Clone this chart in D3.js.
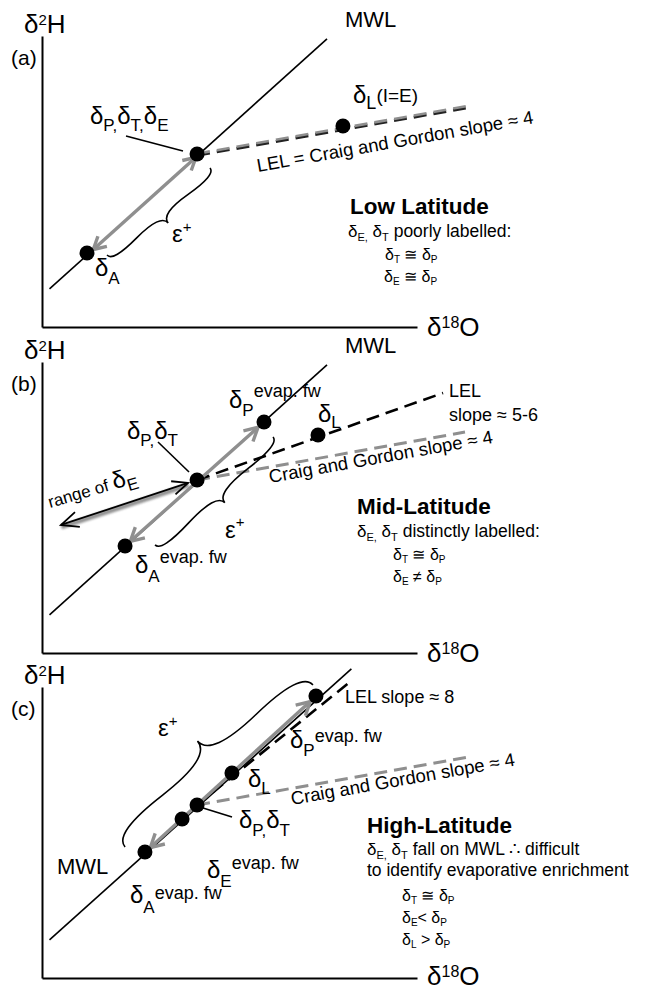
<!DOCTYPE html>
<html><head><meta charset="utf-8">
<script src="https://cdn.jsdelivr.net/npm/d3@7"></script>
<style>
html,body{margin:0;padding:0;background:#fff;}
svg{display:block;font-family:"Liberation Sans",Arial,Helvetica,sans-serif;}
text{white-space:pre;}
</style></head><body>
<svg id="chart" width="645" height="991"></svg>
<script>
// ---------------- data (schematic δ18O / δ2H units) ----------------
const panelLabels = ["(a)", "(b)", "(c)"];
const panelTitles = ["Low Latitude", "Mid-Latitude", "High-Latitude"];
const xDomain = [-20, 0];     // δ18O
const yDomain = [-140, 0];    // δ2H

// Meteoric water line end points [δ18O, δ2H]
const mwlA = [[-19.6, -121.7], [-4.8, -1.4]];
const mwlB = [[-19.6, -121.7], [-4.8, -1.4]];
const mwlC = [[-19.6, -121.7], [-3.5, 8.7]];

// Points
const pointsA = [
  { id: "A", x: -17.6, y: -104.4 },
  { id: "P", x: -11.73, y: -56.8 },
  { id: "L", x: -3.95, y: -43.3 }
];
const pointsB = [
  { id: "Aevap", x: -15.57, y: -88.5 },
  { id: "P", x: -11.73, y: -56.8 },
  { id: "Pevap", x: -8.16, y: -28.9 },
  { id: "L", x: -5.28, y: -35.1 }
];
const pointsC = [
  { id: "Aevap", x: -14.51, y: -79.4 },
  { id: "Eevap", x: -12.53, y: -63.5 },
  { id: "P", x: -11.73, y: -56.8 },
  { id: "L", x: -9.87, y: -41.4 },
  { id: "Pevap", x: -5.39, y: -4.3 }
];

// Craig and Gordon lines (slope ≈ 4)
const cgA = [[-11.73, -56.8], [2.6, -34.0]];
const cgB = [[-11.73, -56.8], [2.56, -33.7]];
const cgC = [[-11.73, -56.8], [2.77, -33.7]];
// Local evaporation lines
const lelB = [[-11.73, -56.8], [1.39, -14.9]];   // slope ≈ 5-6
const lelC = [[-11.73, -56.8], [-3.5, 3.0]];     // slope ≈ 8
// Range of δE arrow (panel b)
const rangeE = [[-12.21, -58.2], [-18.99, -78.4]];
// ε+ braces [start, end]
const braceA = [[-16.53, -105.4], [-11.04, -63.5]];
const braceB = [[-13.97, -88.0], [-7.68, -36.1]];
const braceC = [[-5.55, 1.0], [-15.57, -77.0]];

// ---------------- drawing ----------------
const svg = d3.select("#chart");
const offsets = [0, 326, 651];
const x = d3.scaleLinear().domain(xDomain).range([42, 417]);
const y = d3.scaleLinear().domain(yDomain).range([327, 36]);
const P = d => [x(d[0]), y(d[1])];
const Pt = d => [x(d.x), y(d.y)];

const defs = svg.append("defs");
defs.append("filter").attr("id", "blur").attr("x", "-20%").attr("y", "-50%").attr("width", "140%").attr("height", "200%")
  .append("feGaussianBlur").attr("stdDeviation", 1.3);

function rich(g, px, py, parts, opts = {}) {
  const t = g.append("text").attr("x", px).attr("y", py).attr("fill", "#000");
  if (opts.rotate != null) t.attr("transform", `rotate(${opts.rotate},${px},${py})`);
  if (opts.weight) t.attr("font-weight", opts.weight);
  let cur = 0;
  parts.forEach(p => {
    const shift = p[2] || 0;
    t.append("tspan").attr("font-size", p[1]).attr("dy", shift - cur).text(p[0]);
    cur = shift;
  });
  return t;
}

function line(g, a, b, stroke, width, dash, off) {
  const o = off || [0, 0];
  const l = g.append("line")
    .attr("x1", a[0] + o[0]).attr("y1", a[1] + o[1])
    .attr("x2", b[0] + o[0]).attr("y2", b[1] + o[1])
    .attr("stroke", stroke).attr("stroke-width", width).attr("fill", "none");
  if (dash) l.attr("stroke-dasharray", dash);
  return l;
}

function chevron(g, tip, dir, len, ang, stroke, width) {
  const a = Math.atan2(dir[1], dir[0]);
  const pts = [a + Math.PI - ang, a + Math.PI + ang].map(t => [tip[0] + len * Math.cos(t), tip[1] + len * Math.sin(t)]);
  g.append("path")
    .attr("d", `M${pts[0][0]},${pts[0][1]}L${tip[0]},${tip[1]}L${pts[1][0]},${pts[1][1]}`)
    .attr("fill", "none").attr("stroke", stroke).attr("stroke-width", width)
    .attr("stroke-linejoin", "miter").attr("stroke-linecap", "butt");
}

// double-headed arrow between two pixel points, shortened at both ends
function dblArrow(g, a, b, opt) {
  const dx = b[0] - a[0], dy = b[1] - a[1], L = Math.hypot(dx, dy);
  const u = [dx / L, dy / L];
  const n = [-u[1], u[0]];
  const off = opt.offset || 0;
  const s1 = opt.s1 || 0, s2 = opt.s2 || 0;
  const A = [a[0] + u[0] * s1 + n[0] * off, a[1] + u[1] * s1 + n[1] * off];
  const B = [b[0] - u[0] * s2 + n[0] * off, b[1] - u[1] * s2 + n[1] * off];
  line(g, A, B, opt.color, opt.width);
  chevron(g, B, u, opt.head, opt.ang, opt.color, opt.width);
  chevron(g, A, [-u[0], -u[1]], opt.head, opt.ang, opt.color, opt.width);
}

function curlyBrace(x1, y1, x2, y2, w, q) {
  const len = Math.hypot(x1 - x2, y1 - y2);
  const dx = (x1 - x2) / len, dy = (y1 - y2) / len;
  const qx1 = x1 + q * w * dy, qy1 = y1 - q * w * dx;
  const qx2 = (x1 - .25 * len * dx) + (1 - q) * w * dy, qy2 = (y1 - .25 * len * dy) - (1 - q) * w * dx;
  const tx1 = (x1 - .5 * len * dx) + w * dy, ty1 = (y1 - .5 * len * dy) - w * dx;
  const qx3 = x2 + q * w * dy, qy3 = y2 - q * w * dx;
  const qx4 = (x1 - .75 * len * dx) + (1 - q) * w * dy, qy4 = (y1 - .75 * len * dy) - (1 - q) * w * dx;
  return `M${x1},${y1}Q${qx1},${qy1} ${qx2},${qy2}T${tx1},${ty1}M${x2},${y2}Q${qx3},${qy3} ${qx4},${qy4}T${tx1},${ty1}`;
}
function brace(g, seg, w, q) {
  const a = P(seg[0]), b = P(seg[1]);
  g.append("path").attr("d", curlyBrace(a[0], a[1], b[0], b[1], w, q))
    .attr("fill", "none").attr("stroke", "#000").attr("stroke-width", 1.6);
}

const angleOf = seg => {
  const a = P(seg[0]), b = P(seg[1]);
  return Math.atan2(b[1] - a[1], b[0] - a[0]) * 180 / Math.PI;
};

const GRAY = "#8f8f8f";
const DASH = "13,7";

function frame(g, i, xlabBase) {
  g.append("g").attr("transform", `translate(0,${y.range()[0]})`)
    .call(d3.axisBottom(x).tickValues([]).tickSizeOuter(0))
    .call(s => s.select(".domain").attr("stroke", "#000").attr("stroke-width", 2));
  g.append("g").attr("transform", `translate(${x.range()[0]},0)`)
    .call(d3.axisLeft(y).tickValues([]).tickSizeOuter(0))
    .call(s => s.select(".domain").attr("stroke", "#000").attr("stroke-width", 2));
  rich(g, 24, 33, [["δ", 26], ["2", 15, -8], ["H", 26, 0]]);
  rich(g, 427, xlabBase, [["δ", 26], ["18", 16, -8], ["O", 26, 0]]);
  g.append("text").attr("x", 11).attr("y", 65).attr("font-size", 21).text(panelLabels[i]);
}

function dots(g, pts) {
  g.selectAll("circle.pt").data(pts).join("circle").attr("class", "pt")
    .attr("cx", d => x(d.x)).attr("cy", d => y(d.y)).attr("r", 7.5).attr("fill", "#000");
}
const byId = (pts, id) => Pt(pts.find(d => d.id === id));

// ---------- panel (a) ----------
{
  const g = svg.append("g").attr("transform", `translate(0,${offsets[0]})`);
  frame(g, 0, 336);
  line(g, P(mwlA[0]), P(mwlA[1]), "#000", 1.6);
  g.append("text").attr("x", 345).attr("y", 27).attr("font-size", 22).text("MWL");
  line(g, P(cgA[0]), P(cgA[1]), "#222", 3, DASH, [0, 1.3]);
  line(g, P(cgA[0]), P(cgA[1]), GRAY, 2.6, DASH, [0, -0.4]);
  dblArrow(g, byId(pointsA, "A"), byId(pointsA, "P"), { color: GRAY, width: 3.4, head: 14, ang: 0.5, offset: 1.6, s1: 7, s2: 3 });
  brace(g, braceA, 15, 0.6);
  line(g, [126, 136], [183, 151], "#000", 1.6);
  dots(g, pointsA);
  rich(g, 90, 124, [["δ", 24], ["P,", 17, 7], ["δ", 24, 0], ["T,", 17, 7], ["δ", 24, 0], ["E", 17, 7]]);
  rich(g, 95, 276, [["δ", 24], ["A", 17, 8]]);
  rich(g, 353, 103, [["δ", 24], ["L", 18, 6], ["(I=E)", 19, -1]]);
  rich(g, 172, 242, [["ε", 24], ["+", 15, -10]]);
  rich(g, 258, 172, [["LEL = Craig and Gordon slope ≈ 4", 18.5]], { rotate: angleOf(cgA) });
  rich(g, 350, 214, [[panelTitles[0], 22.5]], { weight: "bold" });
  rich(g, 348, 237, [["δ", 17], ["E,", 11, 4], [" δ", 17, 0], ["T", 11, 4], [" poorly labelled:", 17.5, 0]]);
  rich(g, 385, 260, [["δ", 16], ["T", 10, 3], [" ≅ δ", 16, 0], ["P", 10, 3]]);
  rich(g, 384, 282, [["δ", 16], ["E", 10, 3], [" ≅ δ", 16, 0], ["P", 10, 3]]);
}

// ---------- panel (b) ----------
{
  const g = svg.append("g").attr("transform", `translate(0,${offsets[1]})`);
  frame(g, 1, 336);
  line(g, P(mwlB[0]), P(mwlB[1]), "#000", 1.6);
  g.append("text").attr("x", 345).attr("y", 27).attr("font-size", 22).text("MWL");
  line(g, P(cgB[0]), P(cgB[1]), GRAY, 3, DASH);
  line(g, P(lelB[0]), P(lelB[1]), "#000", 2.6, DASH);
  // range of δE arrow with soft shadow
  const r0 = P(rangeE[0]), r1 = P(rangeE[1]);
  line(g, r0, r1, "#777", 4.5, null, [0.5, 2.2]).attr("filter", "url(#blur)").attr("opacity", 0.8);
  line(g, r0, r1, "#000", 1.8);
  const ru = [r1[0] - r0[0], r1[1] - r0[1]];
  chevron(g, r1, ru, 19, 0.42, "#000", 1.8);
  chevron(g, r0, [-ru[0], -ru[1]], 17, 0.42, "#000", 1.8);
  dblArrow(g, byId(pointsB, "Aevap"), byId(pointsB, "Pevap"), { color: GRAY, width: 3.4, head: 15, ang: 0.5, offset: 0, s1: 7, s2: 8 });
  brace(g, braceB, 16, 0.6);
  line(g, [158, 116], [189, 146], "#000", 1.6);
  dots(g, pointsB);
  rich(g, 229, 82, [["δ", 24], ["P", 17, 8], ["evap. fw", 18, -11]]);
  rich(g, 127, 113, [["δ", 24], ["P,", 17, 7], ["δ", 24, 0], ["T", 17, 7]]);
  rich(g, 318, 96, [["δ", 24], ["L", 17, 6]]);
  rich(g, 449, 71, [["LEL", 18]]);
  rich(g, 449, 95, [["slope ≈ 5-6", 18]]);
  rich(g, 270, 157, [["Craig and Gordon slope ≈ 4", 18.5]], { rotate: angleOf(cgB) });
  rich(g, 50, 182, [["range of ", 17], ["δ", 24, 0], ["E", 17, 6]], { rotate: angleOf([rangeE[1], rangeE[0]]) + 2 });
  rich(g, 225, 212, [["ε", 24], ["+", 15, -11]]);
  rich(g, 135, 247, [["δ", 24], ["A", 17, 9], ["evap. fw", 18, -10]]);
  rich(g, 357, 188, [[panelTitles[1], 22.5]], { weight: "bold" });
  rich(g, 357, 211, [["δ", 17], ["E,", 11, 4], [" δ", 17, 0], ["T", 11, 4], [" distinctly labelled:", 17.5, 0]]);
  rich(g, 393, 234, [["δ", 16], ["T", 10, 3], [" ≅ δ", 16, 0], ["P", 10, 3]]);
  rich(g, 393, 256, [["δ", 16], ["E", 10, 3], [" ≠ δ", 16, 0], ["P", 10, 3]]);
}

// ---------- panel (c) ----------
{
  const g = svg.append("g").attr("transform", `translate(0,${offsets[2]})`);
  frame(g, 2, 334);
  line(g, P(cgC[0]), P(cgC[1]), GRAY, 3, DASH);
  line(g, P(lelC[0]), P(lelC[1]), "#000", 2.6, DASH);
  line(g, P(mwlC[0]), P(mwlC[1]), "#000", 1.6);
  dblArrow(g, byId(pointsC, "Aevap"), byId(pointsC, "Pevap"), { color: GRAY, width: 3.4, head: 15, ang: 0.5, offset: 0.3, s1: 7, s2: 8 });
  brace(g, braceC, 33, 0.55);
  line(g, [203, 157], [232, 166], "#000", 1.6);
  dots(g, pointsC);
  rich(g, 158, 85, [["ε", 24], ["+", 15, -10]]);
  rich(g, 290, 97, [["δ", 24], ["P", 17, 8], ["evap. fw", 18, -6]]);
  rich(g, 345, 52, [["LEL slope ≈ 8", 18]]);
  rich(g, 248, 136, [["δ", 24], ["L", 17, 7]]);
  rich(g, 239, 177, [["δ", 24], ["P,", 17, 8], ["δ", 24, 0], ["T", 17, 8]]);
  g.append("text").attr("x", 57).attr("y", 223).attr("font-size", 22).text("MWL");
  rich(g, 207, 227, [["δ", 24], ["E", 17, 9], ["evap. fw", 18, -9]]);
  rich(g, 130, 252, [["δ", 24], ["A", 17, 10], ["evap. fw", 18, -4]]);
  rich(g, 292, 154, [["Craig and Gordon slope ≈ 4", 18.5]], { rotate: angleOf(cgC) });
  rich(g, 367, 182, [[panelTitles[2], 22.5]], { weight: "bold" });
  rich(g, 367, 204, [["δ", 17], ["E,", 11, 4], [" δ", 17, 0], ["T", 11, 4], [" fall on MWL ∴ difficult", 17.5, 0]]);
  rich(g, 367, 225, [["to identify evaporative enrichment", 17.5]]);
  rich(g, 402, 250, [["δ", 16], ["T", 10, 3], [" ≅ δ", 16, 0], ["P", 10, 3]]);
  rich(g, 402, 272, [["δ", 16], ["E", 10, 3], ["< δ", 16, 0], ["P", 10, 3]]);
  rich(g, 402, 294, [["δ", 16], ["L", 10, 3], [" > δ", 16, 0], ["P", 10, 3]]);
}
</script>
</body></html>
